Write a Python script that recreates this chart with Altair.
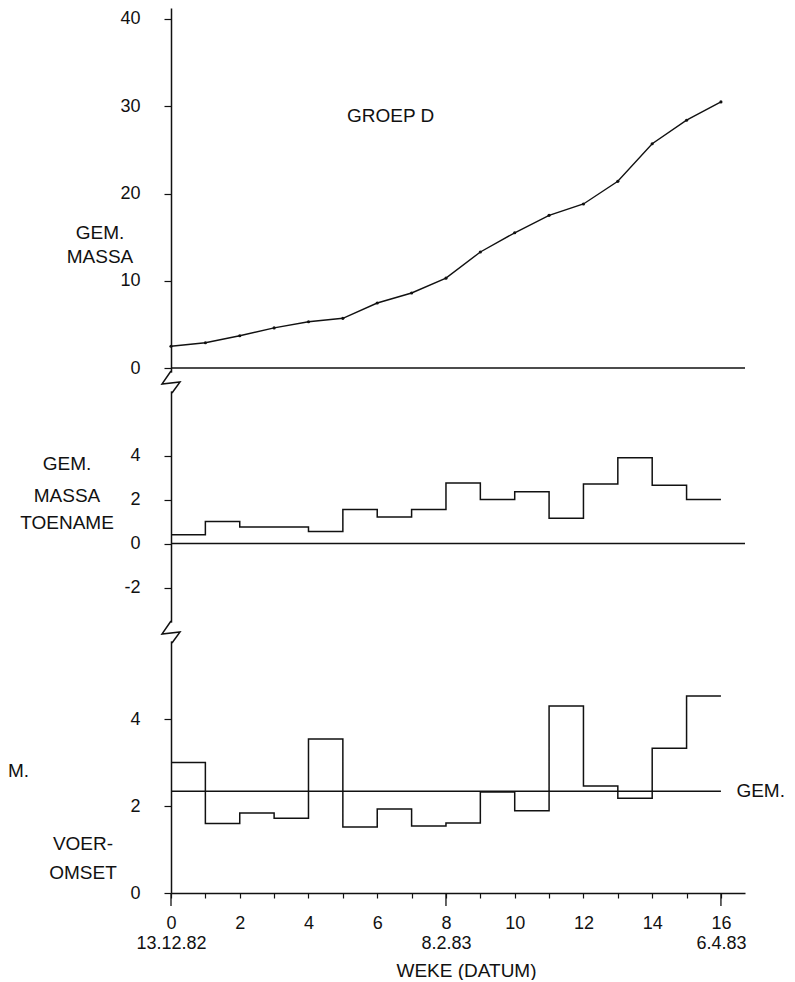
import altair as alt
import pandas as pd

# ---------------- data ----------------
weeks = list(range(17))
mass = [2.5, 2.9, 3.7, 4.6, 5.3, 5.7, 7.45, 8.6, 10.3, 13.3, 15.5, 17.5, 18.8, 21.4, 25.7, 28.4, 30.5]
gain = [0.4, 1.0, 0.75, 0.75, 0.55, 1.55, 1.2, 1.55, 2.75, 2.0, 2.35, 1.15, 2.7, 3.9, 2.65, 2.0]
feed = [3.0, 1.6, 1.84, 1.72, 3.54, 1.52, 1.93, 1.54, 1.61, 2.32, 1.89, 4.3, 2.46, 2.18, 3.33, 4.53]
feed_mean = 2.34
mass_ticks = [0, 10, 20, 30, 40]
gain_ticks = [-2, 0, 2, 4]
feed_ticks = [0, 2, 4]
x_ticks = list(range(17))
long_ticks = [0, 8, 16]
date_labels = {0: "13.12.82", 8: "8.2.83", 16: "6.4.83"}

# ---------------- styling ----------------
FONT = "Liberation Sans"
INK = "#111111"
TXT = 19
TICK = 18
W = 574
XMAX = 16.7
H1, H2, H3 = 374, 250, 261
D1 = [-1.6, 41.26]
D2 = [-4.02, 7.34]
D3 = [0, 6.0]

xscale = alt.Scale(domain=[0, XMAX], nice=False, zero=False)

label_expr = " : ".join(
    f"datum.value == {k} ? ['{k}', '{v}']" for k, v in date_labels.items()
) + " : (datum.value % 2 == 0 ? datum.label : '')"

xaxis = alt.Axis(
    values=x_ticks, tickSize=5, labelPadding=16, labelExpr=label_expr,
    labelLineHeight=20, labelOverlap=False, labelFlush=False, labelBaseline="top",
    title="WEKE (DATUM)", titleFont=FONT, titleFontSize=TXT, titleFontWeight="normal",
    titleColor=INK, titleX=295, titleY=77, titleAlign="center", titleBaseline="middle",
    domainWidth=1.5, tickWidth=1.2, grid=False, zindex=0,
)


def xenc(axis=None):
    return alt.X("week:Q", scale=xscale, axis=axis)


def yenc(field, domain, ticks):
    return alt.Y(
        f"{field}:Q",
        scale=alt.Scale(domain=domain, nice=False, zero=False),
        axis=alt.Axis(values=ticks, tickSize=7, labelPadding=24, title=None,
                      labelExpr="'' + datum.value",
                      domainWidth=1.5, tickWidth=1.2, zindex=0),
    )


def label(text, x, y, align="center", size=TXT):
    return alt.Chart(alt.Data(values=[{}])).mark_text(
        text=text, align=align, baseline="middle", font=FONT, fontSize=size, color=INK
    ).encode(x=alt.value(x), y=alt.value(y))


def break_mark(ypos, domain, ticks, field, axis=None):
    d = pd.DataFrame({"week": [0], field: [ypos]})
    cover = alt.Chart(d).mark_point(
        shape="M-0.2,-0.85L0.2,-0.85L0.2,0.85L-0.2,0.85Z", filled=True,
        fill="white", strokeWidth=0, size=484, opacity=1,
    ).encode(x=xenc(axis), y=yenc(field, domain, ticks))
    zig = alt.Chart(d).mark_point(
        shape="M0,-1L-0.82,0.18L0.82,0L0.09,1", filled=False,
        stroke=INK, strokeWidth=1.5, size=484, opacity=1,
    ).encode(x=xenc(axis), y=yenc(field, domain, ticks))
    return cover + zig


# ---------------- top panel: mean mass ----------------
df_mass = pd.DataFrame({"week": weeks, "m": mass})
zero1 = pd.DataFrame({"week": [0], "week2": [XMAX], "m": [0]})

top_line = alt.Chart(df_mass).mark_line(color=INK, strokeWidth=1.4).encode(
    x=xenc(None), y=yenc("m", D1, mass_ticks))
top_pts = alt.Chart(df_mass).mark_circle(color=INK, size=10, opacity=1).encode(
    x=xenc(None), y=yenc("m", D1, mass_ticks))
top_zero = alt.Chart(zero1).mark_rule(color=INK, strokeWidth=1.4).encode(
    x=xenc(None), x2="week2:Q", y=yenc("m", D1, mass_ticks))
top_title = alt.Chart(pd.DataFrame({"week": [6.39], "m": [28.9]})).mark_text(
    text="GROEP D", font=FONT, fontSize=TXT, color=INK, align="center", baseline="middle"
).encode(x=xenc(None), y=yenc("m", D1, mass_ticks))

top = alt.layer(
    top_zero, top_line, top_pts, top_title,
    label("GEM.", -71, 225), label("MASSA", -71, 249),
).properties(width=W, height=H1)

# ---------------- middle panel: mean mass gain ----------------
df_gain = pd.DataFrame({"week": weeks, "g": gain + [gain[-1]]})
zero2 = pd.DataFrame({"week": [0], "week2": [XMAX], "g": [0]})

mid_step = alt.Chart(df_gain).mark_line(
    color=INK, strokeWidth=1.5, interpolate="step-after").encode(
    x=xenc(None), y=yenc("g", D2, gain_ticks))
mid_zero = alt.Chart(zero2).mark_rule(color=INK, strokeWidth=1.4).encode(
    x=xenc(None), x2="week2:Q", y=yenc("g", D2, gain_ticks))

mid = alt.layer(
    mid_zero, mid_step, break_mark(D2[1], D2, gain_ticks, "g"),
    label("GEM.", -104, 82), label("MASSA", -104, 114), label("TOENAME", -104, 141),
).properties(width=W, height=H2)

# ---------------- bottom panel: feed conversion ----------------
df_feed = pd.DataFrame({"week": weeks, "f": feed + [feed[-1]]})
mean_df = pd.DataFrame({"week": [0], "week2": [16], "f": [feed_mean]})
long_df = pd.DataFrame({"week": long_ticks})

bot_step = alt.Chart(df_feed).mark_line(
    color=INK, strokeWidth=1.5, interpolate="step-after").encode(
    x=xenc(xaxis), y=yenc("f", D3, feed_ticks))
bot_mean = alt.Chart(mean_df).mark_rule(color=INK, strokeWidth=1.4).encode(
    x=xenc(xaxis), x2="week2:Q", y=yenc("f", D3, feed_ticks))
bot_long = alt.Chart(long_df).mark_rule(color=INK, strokeWidth=1.3).encode(
    x=xenc(xaxis), y=alt.value(H3), y2=alt.value(H3 + 13))
bot_gem = alt.Chart(pd.DataFrame({"week": [16.45], "f": [feed_mean]})).mark_text(
    text="GEM.", font=FONT, fontSize=TXT, color=INK, align="left", baseline="middle"
).encode(x=xenc(xaxis), y=yenc("f", D3, feed_ticks))

bot = alt.layer(
    bot_mean, bot_step, bot_long, bot_gem,
    break_mark(D3[1], D3, feed_ticks, "f", axis=xaxis),
    label("M.", -163, 139, align="left"),
    label("VOER-", -88, 212), label("OMSET", -88, 241),
).properties(width=W, height=H3)

chart = alt.vconcat(top, mid, bot, spacing=0, bounds="flush").properties(
    padding=0
).configure_view(strokeWidth=0).configure_axis(
    domainColor=INK, tickColor=INK, labelColor=INK, labelFont=FONT,
    labelFontSize=TICK, grid=False,
)

chart.save("out.html", embed_options={"renderer": "svg", "actions": False})
